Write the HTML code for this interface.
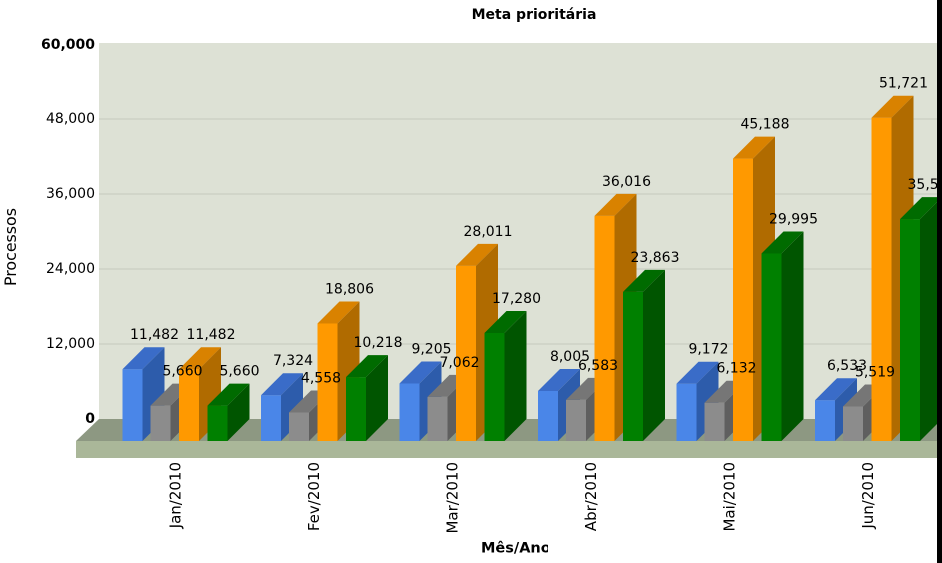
<!DOCTYPE html>
<html><head><meta charset="utf-8"><style>
html,body{margin:0;padding:0;background:#fff;}
svg{display:block;}
text{font-family:"DejaVu Sans","Liberation Sans",sans-serif;fill:#000;}
.v{font-size:14px;text-anchor:middle;}
.ya{font-size:14px;text-anchor:end;}
.cat{font-size:15px;text-anchor:end;}
</style></head><body>
<svg width="942" height="563" viewBox="0 0 942 563" xmlns="http://www.w3.org/2000/svg">
<defs>
<clipPath id="cx"><rect x="0" y="530" width="548" height="33"/></clipPath>
<g id="dummy"></g>
</defs>
<!-- wall -->
<rect x="99" y="43" width="838" height="376" fill="#dde1d5"/>
<g stroke="#cdd1c5" stroke-width="1.5">
<line x1="99" y1="119" x2="937" y2="119"/>
<line x1="99" y1="194" x2="937" y2="194"/>
<line x1="99" y1="269" x2="937" y2="269"/>
<line x1="99" y1="344" x2="937" y2="344"/>
</g>
<!-- floor -->
<polygon points="99,419 937,419 937,441 76,441" fill="#8d9882"/>
<rect x="76" y="441" width="861" height="17" fill="#aab799"/>

<!-- y axis labels -->
<text class="ya" x="95" y="49" font-weight="bold">60,000</text>
<text class="ya" x="95" y="123">48,000</text>
<text class="ya" x="95" y="198">36,000</text>
<text class="ya" x="95" y="273">24,000</text>
<text class="ya" x="95" y="348">12,000</text>
<text class="ya" x="95" y="423" font-weight="bold">0</text>

<!-- bars -->
<!-- Jan -->
<g transform="translate(122.5,369.2)"><rect x="0" y="0" width="20" height="71.8" fill="#4a86e8"/><polygon points="0,0 22,-22 42,-22 20,0" fill="#3a6cc8"/><polygon points="20,0 42,-22 42,49.8 20,71.8" fill="#2d5cab"/></g>
<g transform="translate(150.5,405.6)"><rect x="0" y="0" width="20" height="35.4" fill="#8c8c8c"/><polygon points="0,0 22,-22 42,-22 20,0" fill="#767676"/><polygon points="20,0 42,-22 42,13.4 20,35.4" fill="#5f5f5f"/></g>
<g transform="translate(179,369.2)"><rect x="0" y="0" width="20" height="71.8" fill="#ff9900"/><polygon points="0,0 22,-22 42,-22 20,0" fill="#d98200"/><polygon points="20,0 42,-22 42,49.8 20,71.8" fill="#b06b00"/></g>
<g transform="translate(207.5,405.6)"><rect x="0" y="0" width="20" height="35.4" fill="#008000"/><polygon points="0,0 22,-22 42,-22 20,0" fill="#006b00"/><polygon points="20,0 42,-22 42,13.4 20,35.4" fill="#005500"/></g>
<!-- Fev -->
<g transform="translate(261,395.2)"><rect x="0" y="0" width="20" height="45.8" fill="#4a86e8"/><polygon points="0,0 22,-22 42,-22 20,0" fill="#3a6cc8"/><polygon points="20,0 42,-22 42,23.8 20,45.8" fill="#2d5cab"/></g>
<g transform="translate(289,412.5)"><rect x="0" y="0" width="20" height="28.5" fill="#8c8c8c"/><polygon points="0,0 22,-22 42,-22 20,0" fill="#767676"/><polygon points="20,0 42,-22 42,6.5 20,28.5" fill="#5f5f5f"/></g>
<g transform="translate(317.5,323.5)"><rect x="0" y="0" width="20" height="117.5" fill="#ff9900"/><polygon points="0,0 22,-22 42,-22 20,0" fill="#d98200"/><polygon points="20,0 42,-22 42,95.5 20,117.5" fill="#b06b00"/></g>
<g transform="translate(346,377.1)"><rect x="0" y="0" width="20" height="63.9" fill="#008000"/><polygon points="0,0 22,-22 42,-22 20,0" fill="#006b00"/><polygon points="20,0 42,-22 42,41.9 20,63.9" fill="#005500"/></g>
<!-- Mar -->
<g transform="translate(399.5,383.5)"><rect x="0" y="0" width="20" height="57.5" fill="#4a86e8"/><polygon points="0,0 22,-22 42,-22 20,0" fill="#3a6cc8"/><polygon points="20,0 42,-22 42,35.5 20,57.5" fill="#2d5cab"/></g>
<g transform="translate(427.5,396.9)"><rect x="0" y="0" width="20" height="44.1" fill="#8c8c8c"/><polygon points="0,0 22,-22 42,-22 20,0" fill="#767676"/><polygon points="20,0 42,-22 42,22.1 20,44.1" fill="#5f5f5f"/></g>
<g transform="translate(456,265.9)"><rect x="0" y="0" width="20" height="175.1" fill="#ff9900"/><polygon points="0,0 22,-22 42,-22 20,0" fill="#d98200"/><polygon points="20,0 42,-22 42,153.1 20,175.1" fill="#b06b00"/></g>
<g transform="translate(484.5,333)"><rect x="0" y="0" width="20" height="108" fill="#008000"/><polygon points="0,0 22,-22 42,-22 20,0" fill="#006b00"/><polygon points="20,0 42,-22 42,86 20,108" fill="#005500"/></g>
<!-- Abr -->
<g transform="translate(538,391)"><rect x="0" y="0" width="20" height="50" fill="#4a86e8"/><polygon points="0,0 22,-22 42,-22 20,0" fill="#3a6cc8"/><polygon points="20,0 42,-22 42,28 20,50" fill="#2d5cab"/></g>
<g transform="translate(566,399.9)"><rect x="0" y="0" width="20" height="41.1" fill="#8c8c8c"/><polygon points="0,0 22,-22 42,-22 20,0" fill="#767676"/><polygon points="20,0 42,-22 42,19.1 20,41.1" fill="#5f5f5f"/></g>
<g transform="translate(594.5,215.9)"><rect x="0" y="0" width="20" height="225.1" fill="#ff9900"/><polygon points="0,0 22,-22 42,-22 20,0" fill="#d98200"/><polygon points="20,0 42,-22 42,203.1 20,225.1" fill="#b06b00"/></g>
<g transform="translate(623,291.9)"><rect x="0" y="0" width="20" height="149.1" fill="#008000"/><polygon points="0,0 22,-22 42,-22 20,0" fill="#006b00"/><polygon points="20,0 42,-22 42,127.1 20,149.1" fill="#005500"/></g>
<!-- Mai -->
<g transform="translate(676.5,383.7)"><rect x="0" y="0" width="20" height="57.3" fill="#4a86e8"/><polygon points="0,0 22,-22 42,-22 20,0" fill="#3a6cc8"/><polygon points="20,0 42,-22 42,35.3 20,57.3" fill="#2d5cab"/></g>
<g transform="translate(704.5,402.7)"><rect x="0" y="0" width="20" height="38.3" fill="#8c8c8c"/><polygon points="0,0 22,-22 42,-22 20,0" fill="#767676"/><polygon points="20,0 42,-22 42,16.3 20,38.3" fill="#5f5f5f"/></g>
<g transform="translate(733,158.6)"><rect x="0" y="0" width="20" height="282.4" fill="#ff9900"/><polygon points="0,0 22,-22 42,-22 20,0" fill="#d98200"/><polygon points="20,0 42,-22 42,260.4 20,282.4" fill="#b06b00"/></g>
<g transform="translate(761.5,253.5)"><rect x="0" y="0" width="20" height="187.5" fill="#008000"/><polygon points="0,0 22,-22 42,-22 20,0" fill="#006b00"/><polygon points="20,0 42,-22 42,165.5 20,187.5" fill="#005500"/></g>
<!-- Jun -->
<g transform="translate(815,400.2)"><rect x="0" y="0" width="20" height="40.8" fill="#4a86e8"/><polygon points="0,0 22,-22 42,-22 20,0" fill="#3a6cc8"/><polygon points="20,0 42,-22 42,18.8 20,40.8" fill="#2d5cab"/></g>
<g transform="translate(843,406.5)"><rect x="0" y="0" width="20" height="34.5" fill="#8c8c8c"/><polygon points="0,0 22,-22 42,-22 20,0" fill="#767676"/><polygon points="20,0 42,-22 42,12.5 20,34.5" fill="#5f5f5f"/></g>
<g transform="translate(871.5,117.7)"><rect x="0" y="0" width="20" height="323.3" fill="#ff9900"/><polygon points="0,0 22,-22 42,-22 20,0" fill="#d98200"/><polygon points="20,0 42,-22 42,301.3 20,323.3" fill="#b06b00"/></g>
<g transform="translate(900,219.1)"><rect x="0" y="0" width="20" height="221.9" fill="#008000"/><polygon points="0,0 22,-22 42,-22 20,0" fill="#006b00"/><polygon points="20,0 42,-22 42,199.9 20,221.9" fill="#005500"/></g>

<!-- value labels -->
<text class="v" x="154.5" y="339.2">11,482</text>
<text class="v" x="182.5" y="375.6">5,660</text>
<text class="v" x="211" y="339.2">11,482</text>
<text class="v" x="239.5" y="375.6">5,660</text>
<text class="v" x="293" y="365.2">7,324</text>
<text class="v" x="321" y="382.5">4,558</text>
<text class="v" x="349.5" y="293.5">18,806</text>
<text class="v" x="378" y="347.1">10,218</text>
<text class="v" x="431.5" y="353.5">9,205</text>
<text class="v" x="459.5" y="366.9">7,062</text>
<text class="v" x="488" y="235.9">28,011</text>
<text class="v" x="516.5" y="303">17,280</text>
<text class="v" x="570" y="361">8,005</text>
<text class="v" x="598" y="369.9">6,583</text>
<text class="v" x="626.5" y="185.9">36,016</text>
<text class="v" x="655" y="261.9">23,863</text>
<text class="v" x="708.5" y="353.7">9,172</text>
<text class="v" x="736.5" y="372.7">6,132</text>
<text class="v" x="765" y="128.6">45,188</text>
<text class="v" x="793.5" y="223.5">29,995</text>
<text class="v" x="847" y="370.2">6,533</text>
<text class="v" x="875" y="376.5">5,519</text>
<text class="v" x="903.5" y="87.7">51,721</text>
<text class="v" x="932" y="189.1">35,512</text>

<!-- category labels -->
<text class="cat" transform="translate(180.5,462) rotate(-90)">Jan/2010</text>
<text class="cat" transform="translate(319,462) rotate(-90)">Fev/2010</text>
<text class="cat" transform="translate(457.5,462) rotate(-90)">Mar/2010</text>
<text class="cat" transform="translate(596,462) rotate(-90)">Abr/2010</text>
<text class="cat" transform="translate(734.5,462) rotate(-90)">Mai/2010</text>
<text class="cat" transform="translate(873,462) rotate(-90)">Jun/2010</text>

<!-- titles -->
<text x="534" y="19" font-size="14" font-weight="bold" text-anchor="middle">Meta prioritária</text>
<text transform="translate(16,247) rotate(-90)" font-size="16" text-anchor="middle" textLength="78" lengthAdjust="spacingAndGlyphs">Processos</text>
<text x="481" y="552.5" font-size="14.5" font-weight="bold" clip-path="url(#cx)">Mês/Ano</text>

<!-- right black edge -->
<rect x="937" y="0" width="5" height="563" fill="#000"/>
</svg>
</body></html>
